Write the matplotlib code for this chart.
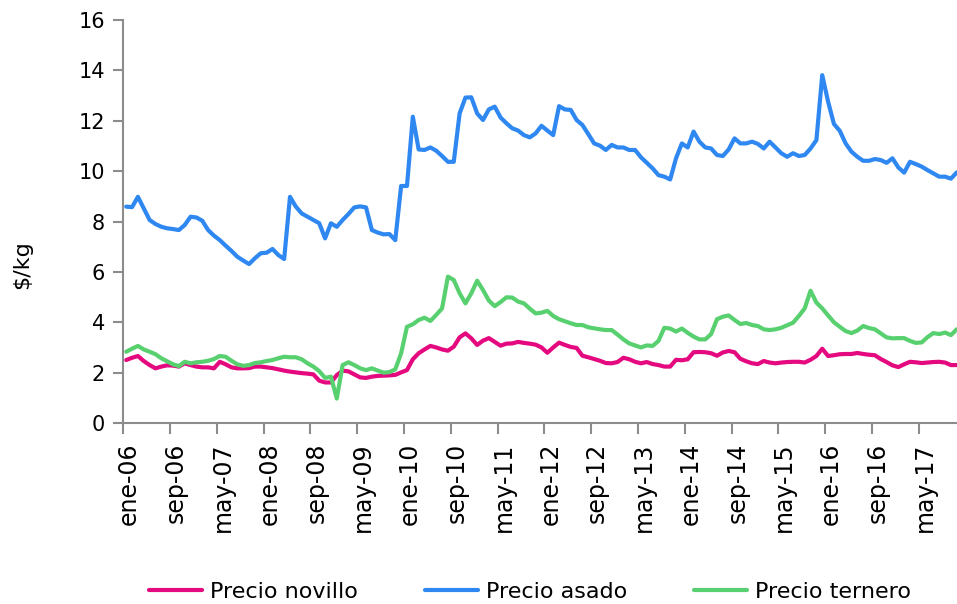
import matplotlib
matplotlib.use("Agg")
import matplotlib.pyplot as plt
import numpy as np

# ---- data (monthly, ene-06 .. nov-17) ----
asado = [8.59, 8.57, 8.98, 8.52, 8.06, 7.90, 7.79, 7.73, 7.70, 7.66,
         7.86, 8.19, 8.16, 8.03, 7.66, 7.44, 7.26, 7.04, 6.83, 6.60,
         6.45, 6.31, 6.54, 6.74, 6.76, 6.91, 6.67, 6.51, 8.98, 8.59,
         8.32, 8.19, 8.06, 7.93, 7.33, 7.93, 7.79, 8.06, 8.30, 8.56,
         8.60, 8.56, 7.66, 7.56, 7.49, 7.50, 7.26, 9.41, 9.41, 12.16,
         10.86, 10.84, 10.94, 10.81, 10.60, 10.37, 10.37, 12.29, 12.92, 12.93,
         12.29, 12.03, 12.45, 12.56, 12.13, 11.90, 11.70, 11.61, 11.43, 11.34,
         11.50, 11.80, 11.61, 11.43, 12.58, 12.45, 12.43, 12.03, 11.83, 11.47,
         11.10, 11.01, 10.84, 11.04, 10.94, 10.94, 10.84, 10.84, 10.55, 10.33,
         10.11, 9.84, 9.78, 9.67, 10.51, 11.10, 10.94, 11.57, 11.17, 10.94,
         10.90, 10.64, 10.60, 10.86, 11.30, 11.10, 11.10, 11.17, 11.08, 10.90,
         11.17, 10.94, 10.71, 10.57, 10.71, 10.60, 10.64, 10.90, 11.23, 13.81,
         12.76, 11.87, 11.60, 11.10, 10.77, 10.57, 10.41, 10.41, 10.48, 10.44,
         10.33, 10.51, 10.15, 9.94, 10.37, 10.28, 10.18, 10.04, 9.91, 9.78,
         9.78, 9.70, 9.95]

ternero = [2.83, 2.95, 3.06, 2.92, 2.83, 2.73, 2.57, 2.45, 2.33, 2.26,
           2.43, 2.37, 2.41, 2.43, 2.47, 2.54, 2.66, 2.63, 2.47, 2.33,
           2.27, 2.30, 2.38, 2.41, 2.46, 2.50, 2.57, 2.63, 2.61, 2.61,
           2.53, 2.37, 2.24, 2.06, 1.79, 1.84, 0.97, 2.30, 2.41, 2.30,
           2.17, 2.10, 2.17, 2.08, 2.00, 2.02, 2.13, 2.77, 3.82, 3.92,
           4.09, 4.18, 4.05, 4.29, 4.55, 5.81, 5.68, 5.15, 4.75, 5.15,
           5.65, 5.28, 4.86, 4.64, 4.80, 4.99, 4.98, 4.82, 4.75, 4.54,
           4.35, 4.38, 4.45, 4.25, 4.12, 4.04, 3.96, 3.89, 3.89, 3.80,
           3.76, 3.72, 3.69, 3.69, 3.51, 3.32, 3.16, 3.08, 3.00, 3.08,
           3.06, 3.26, 3.78, 3.75, 3.63, 3.75, 3.58, 3.43, 3.32, 3.32,
           3.53, 4.12, 4.22, 4.27, 4.09, 3.93, 3.97, 3.89, 3.85, 3.72,
           3.69, 3.72, 3.78, 3.88, 3.98, 4.25, 4.55, 5.25, 4.78, 4.55,
           4.27, 4.00, 3.82, 3.65, 3.57, 3.67, 3.85, 3.77, 3.72, 3.56,
           3.40, 3.36, 3.37, 3.37, 3.26, 3.18, 3.20, 3.41, 3.57, 3.53,
           3.59, 3.49, 3.72]

novillo = [2.50, 2.59, 2.66, 2.46, 2.30, 2.17, 2.24, 2.29, 2.28, 2.24,
           2.37, 2.30, 2.24, 2.21, 2.21, 2.17, 2.43, 2.33, 2.21, 2.17,
           2.17, 2.18, 2.24, 2.24, 2.21, 2.18, 2.13, 2.08, 2.04, 2.01,
           1.98, 1.96, 1.93, 1.68, 1.61, 1.61, 1.90, 2.08, 2.05, 1.93,
           1.81, 1.79, 1.84, 1.87, 1.88, 1.89, 1.91, 2.01, 2.10, 2.53,
           2.77, 2.92, 3.06, 3.00, 2.92, 2.87, 3.03, 3.40, 3.56, 3.36,
           3.10, 3.27, 3.37, 3.22, 3.07, 3.15, 3.16, 3.22, 3.18, 3.15,
           3.11, 3.00, 2.79, 3.00, 3.19, 3.10, 3.02, 2.98, 2.67, 2.61,
           2.54, 2.47, 2.38, 2.37, 2.42, 2.59, 2.53, 2.43, 2.37, 2.42,
           2.34, 2.30, 2.24, 2.24, 2.51, 2.49, 2.53, 2.81, 2.82, 2.81,
           2.77, 2.67, 2.80, 2.86, 2.81, 2.55, 2.45, 2.37, 2.34, 2.46,
           2.40, 2.37, 2.40, 2.42, 2.43, 2.43, 2.40, 2.51, 2.66, 2.95,
           2.66, 2.69, 2.73, 2.74, 2.74, 2.78, 2.74, 2.71, 2.69, 2.54,
           2.42, 2.29, 2.22, 2.33, 2.43, 2.41, 2.38, 2.40, 2.42, 2.43,
           2.40, 2.30, 2.30]

tick_labels = ["ene-06", "sep-06", "may-07", "ene-08", "sep-08", "may-09",
               "ene-10", "sep-10", "may-11", "ene-12", "sep-12", "may-13",
               "ene-14", "sep-14", "may-15", "ene-16", "sep-16", "may-17"]
series_names = ["Precio novillo", "Precio asado", "Precio ternero"]
colors = ["#e5097f", "#2f88f1", "#58d070"]

W, H = 957, 604
fig = plt.figure(figsize=(W / 100, H / 100), dpi=100)
ax = fig.add_axes([123.3 / W, 1 - 423 / H, (957 - 123.3) / W, (423 - 20) / H])

x = np.arange(len(asado))
for vals, name, c in zip([novillo, asado, ternero], series_names, colors):
    ax.plot(x, vals, color=c, lw=3.0, label=name, solid_joinstyle="round",
            solid_capstyle="round")

ax.set_xlim(-0.5, 142.04)
ax.set_ylim(0, 16)
ax.set_yticks(np.arange(0, 17, 2))
ax.tick_params(axis="y", labelsize=15, length=7, width=1.5, color="#8c8c8c", pad=6)

pos = np.arange(len(tick_labels)) * 8
ax.set_xticks(pos - 0.5, minor=True)
ax.set_xticks(pos + 0.5)
ax.set_xticklabels(tick_labels, rotation=90, fontsize=17)
ax.tick_params(axis="x", which="major", length=0, pad=14)
ax.tick_params(axis="x", which="minor", length=8, width=1.5, color="#8c8c8c")

for s in ["top", "right"]:
    ax.spines[s].set_visible(False)
for s in ["left", "bottom"]:
    ax.spines[s].set_color("#8c8c8c")
    ax.spines[s].set_linewidth(1.5)

fig.text(22 / W, 1 - 265 / H, "$/kg", rotation=90, ha="center", va="center",
         fontsize=16)

fig.legend(loc="center", bbox_to_anchor=(530 / W, 1 - 592 / H), ncol=3,
           frameon=False, fontsize=16, handlelength=2.4, columnspacing=3.0,
           handletextpad=0.35)

fig.savefig("out.png", dpi=100)
